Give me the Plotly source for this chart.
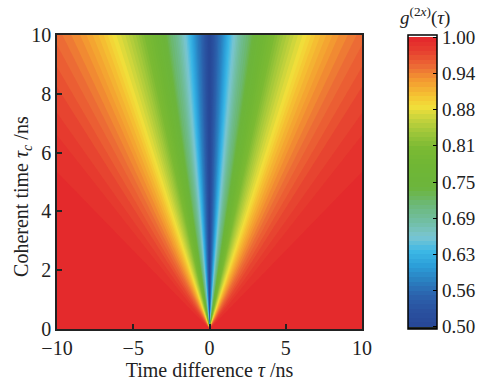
import numpy as np
import plotly.graph_objects as go

# ---- data ----
# g^(2x) as a function of the ratio |tau| / tau_c (contours are straight lines through the origin)
ratio = [0.0, 0.03, 0.06, 0.08, 0.11, 0.13, 0.16, 0.18, 0.22, 0.26, 0.30, 0.35, 0.40,
         0.48, 0.56, 0.63, 0.70, 0.76, 0.85, 1.00, 1.20, 1.50, 2.00, 3.00]
g_val = [0.500, 0.533, 0.564, 0.580, 0.610, 0.630, 0.655, 0.670, 0.700, 0.720, 0.750, 0.778, 0.800,
         0.835, 0.862, 0.880, 0.900, 0.913, 0.930, 0.950, 0.968, 0.984, 0.995, 0.999]
tau_range = [-10, 10]
tauc_range = [0, 10]
x_ticks = [-10, -5, 0, 5, 10]
y_ticks = [0, 2, 4, 6, 8, 10]
cb_ticks = [0.5, 0.5625, 0.625, 0.6875, 0.75, 0.8125, 0.875, 0.9375, 1.0]
cb_ticktext = ["0.50", "0.56", "0.63", "0.69", "0.75", "0.81", "0.88", "0.94", "1.00"]

# ---- grid ----
tau = np.linspace(tau_range[0], tau_range[1], 401)
tauc = np.linspace(tauc_range[0], tauc_range[1], 201)
T, TC = np.meshgrid(tau, tauc)
R = np.abs(T) / np.where(TC == 0, 1e-9, TC)
R[(T == 0)] = 0.0
Z = np.interp(R, ratio, g_val)

# ---- colour map (value -> colour anchors) ----
anchors = [
    (0.500, "#274796"), (0.530, "#2a52a0"), (0.555, "#2b63ad"), (0.580, "#2a80c0"),
    (0.605, "#2c9fd9"), (0.630, "#3cb8e6"), (0.655, "#7ac5d2"), (0.680, "#72bfa6"),
    (0.710, "#6cb87a"), (0.740, "#6cb53c"), (0.780, "#70b634"), (0.810, "#7cba33"),
    (0.835, "#9ec63a"), (0.860, "#c8d43c"), (0.880, "#f2df3a"), (0.900, "#f5c232"),
    (0.925, "#f39a31"), (0.950, "#ec6a35"), (0.975, "#e7402f"), (1.000, "#e4262c"),
]

def hex2rgb(h):
    h = h.lstrip("#")
    return [int(h[i:i + 2], 16) for i in (0, 2, 4)]

av = [a[0] for a in anchors]
ac = np.array([hex2rgb(a[1]) for a in anchors], dtype=float)

def color_at(v):
    r = np.interp(v, av, ac[:, 0]); g = np.interp(v, av, ac[:, 1]); b = np.interp(v, av, ac[:, 2])
    return "rgb(%d,%d,%d)" % (round(r), round(g), round(b))

start, end, cs = 0.5, 1.0, 1.0 / 128
nc = int(round((end - start) / cs)) + 1
colorscale = []
for k in range(nc + 1):
    f = k / nc
    if k == 0:
        col = "rgb(32,38,31)"
    elif k == nc:
        col = "rgb(255,255,255)"
    else:
        col = color_at(start + (k - 0.5) * cs)
    colorscale.append([f, col])

FONT = "Liberation Serif"
TXT = "#222"

fig = go.Figure(go.Contour(
    x=tau, y=tauc, z=Z,
    autocontour=False,
    contours=dict(start=start, end=end, size=cs, coloring="fill", showlines=False),
    line=dict(width=0),
    colorscale=colorscale,
    colorbar=dict(
        x=(419 - 57) / 315, xanchor="left", xpad=0, ypad=0,
        y=0.5, yanchor="middle", len=1, lenmode="fraction",
        thickness=29, thicknessmode="pixels",
        outlinecolor="black", outlinewidth=1.5,
        tickvals=cb_ticks, ticktext=cb_ticktext,
        ticks="inside", ticklen=4, tickcolor="black",
        tickfont=dict(family=FONT, size=19, color=TXT),
    ),
    hoverinfo="skip",
))

axis_common = dict(
    showline=True, linecolor="#222", linewidth=1.5, mirror=True,
    ticks="inside", ticklen=5, tickcolor="#222", tickwidth=1.5,
    showgrid=False, zeroline=False,
    tickfont=dict(family=FONT, size=20, color=TXT),
)

fig.update_xaxes(range=tau_range, tickvals=x_ticks,
                 title=dict(text="Time difference <i>τ</i> /ns", standoff=0,
                            font=dict(family=FONT, size=20, color=TXT)),
                 **axis_common)
fig.update_yaxes(range=tauc_range, tickvals=y_ticks, **axis_common)

fig.add_annotation(
    text="Coherent time <i>τ</i><sub><i>c</i></sub> /ns",
    xref="paper", yref="paper", x=(22 - 57) / 315, y=(333 - 199) / 298,
    xanchor="center", yanchor="middle", textangle=-90, showarrow=False,
    font=dict(family=FONT, size=20, color=TXT),
)

fig.add_annotation(
    text="<i>g</i><sup>(2<i>x</i>)</sup>(<i>τ</i>)",
    xref="paper", yref="paper", x=(437 - 57) / 315, y=1 + (35 - 16) / 298,
    xanchor="center", yanchor="middle", showarrow=False,
    font=dict(family=FONT, size=19, color=TXT),
)

fig.update_layout(
    width=492, height=385,
    margin=dict(l=57, r=120, t=35, b=52),
    paper_bgcolor="white", plot_bgcolor="white",
    font=dict(family=FONT, color=TXT),
)

fig.write_html("out.html")
